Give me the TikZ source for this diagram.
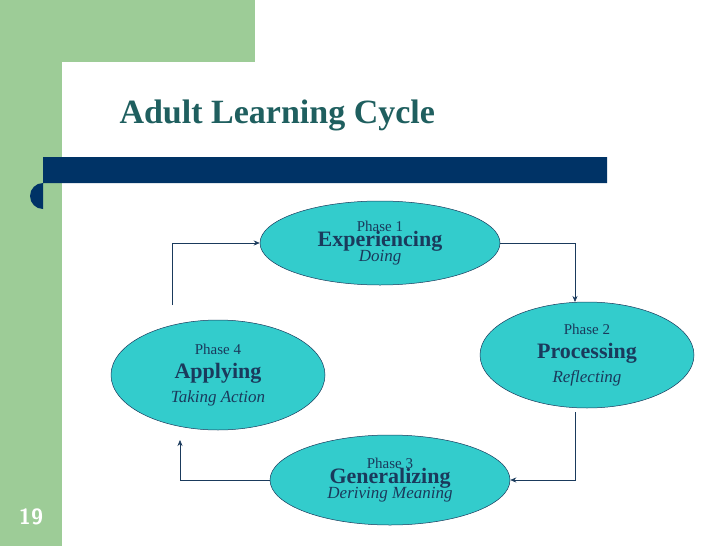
\documentclass[tikz,border=0pt]{standalone}
\usepackage{fontspec}
\setmainfont{Liberation Serif}
\usetikzlibrary{shapes.geometric,arrows.meta}
\definecolor{grn}{HTML}{9DCC97}
\definecolor{navy}{HTML}{003366}
\definecolor{tealt}{HTML}{1F5F5F}
\definecolor{cyanf}{HTML}{33CCCC}
\definecolor{txt}{HTML}{1A3A5C}
\newcommand{\phsm}{\fontsize{15}{17}\selectfont}
\newcommand{\phbd}{\bfseries\fontsize{22}{23}\selectfont}
\newcommand{\phit}{\mdseries\itshape\fontsize{17}{18}\selectfont}
\begin{document}
\begin{tikzpicture}[x=1pt,y=-1pt,
  ph/.style={ellipse,draw=txt,line width=0.5pt,fill=cyanf,inner sep=0pt,text=txt,align=center},
  conn/.style={draw=txt,line width=0.6pt,-{Stealth[length=6pt,width=5pt]}}]
\useasboundingbox (0,0) rectangle (728,546);
\fill[white] (0,0) rectangle (728,546);
\fill[grn] (0,0) rectangle (255,62);
\fill[grn] (0,0) rectangle (62,546);
\fill[white] (62,546) -- (62,92) arc[start angle=180,end angle=90,radius=30] -- (255,62) -- (255,546) -- cycle;
\fill[white] (255,62) rectangle (728,546);
\node[anchor=west,text=tealt,font=\bfseries\fontsize{34}{38}\selectfont] (title) at (116,115) {Adult Learning Cycle};
\fill[navy] (43,157) -- (607,157) -- (607,183) -- (43,183) arc[start angle=270,end angle=90,radius=13] -- cycle;
\node[ph,minimum width=240,minimum height=84] (p1) at (380,243) {\phsm Phase 1\\[-1pt]\phbd Experiencing\\[-2pt]\phit Doing};
\node[ph,minimum width=214,minimum height=106] (p2) at (587,355) {\phsm Phase 2\\[8pt]\phbd Processing\\[6pt]\phit Reflecting};
\node[ph,minimum width=240,minimum height=90] (p3) at (390,480) {\phsm Phase 3\\[-1pt]\phbd Generalizing\\[-2pt]\phit Deriving Meaning};
\node[ph,minimum width=214,minimum height=110] (p4) at (218,375) {\phsm Phase 4\\[8pt]\phbd Applying\\[6pt]\phit Taking Action};
\coordinate (s4) at (172,305);
\coordinate (s2) at (575,412);
\draw[conn] (s4) |- (p1.west);
\draw[conn] (p1.east) -| (575,302);
\draw[conn] (s2) |- (p3.east);
\draw[conn] (p3.west) -| (180,440);
\node[text=white,font=\sffamily\bfseries\fontsize{22}{24}\selectfont] (num) at (31,517) {19};
\end{tikzpicture}
\end{document}
